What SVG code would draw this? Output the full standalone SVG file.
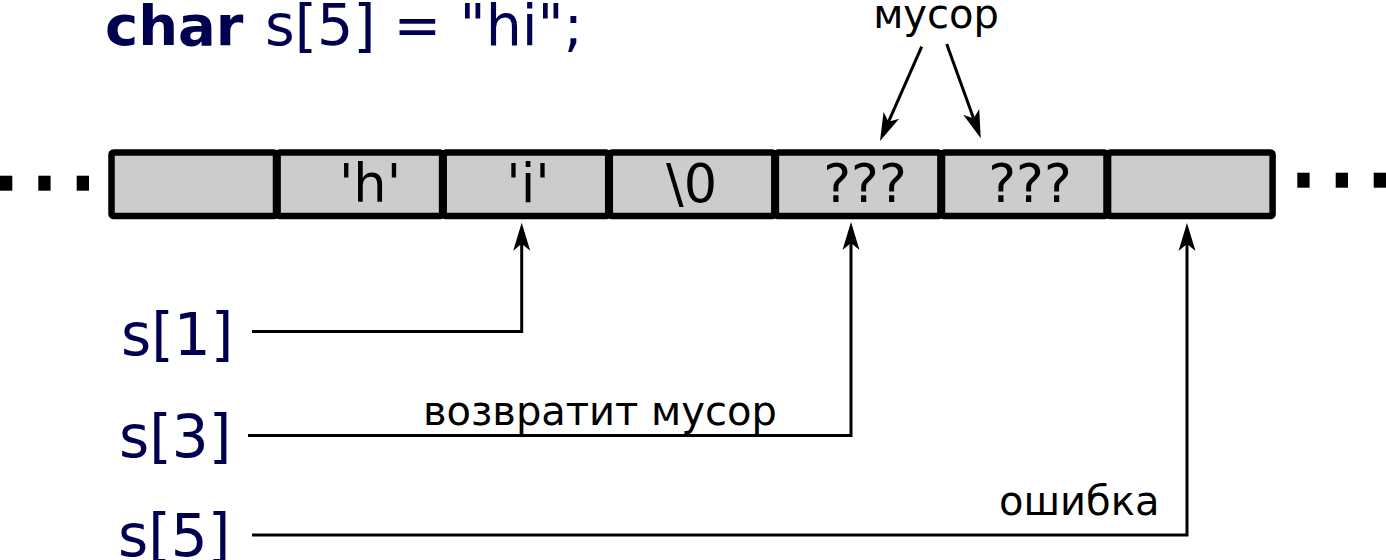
<svg xmlns="http://www.w3.org/2000/svg" width="1386" height="560" viewBox="0 0 1386 560">
<style>
text{font-family:"DejaVu Sans","Liberation Sans",sans-serif}
.navy{fill:#000050}
.cell rect{fill:#cccccc;stroke:#000;stroke-width:6.5;stroke-linejoin:round}
.ct{font-size:52.5px;fill:#000;text-anchor:middle}
.lbl{font-size:58px}
.ann{font-size:40px;fill:#000}
.con{fill:none;stroke:#000;stroke-width:3}
.dot{fill:#000}
</style>
<defs>
<marker id="ah" markerUnits="userSpaceOnUse" markerWidth="40" markerHeight="30" viewBox="-10 -15 40 30" refX="0" refY="0" orient="auto">
<path d="M21,0 L-7,-8.5 L0,0 L-7,8.5 Z" fill="#000"/>
</marker>
</defs>
<rect width="1386" height="560" fill="#fff"/>
<g id="title">
<text x="105" y="45" class="navy" style="font-size:56px"><tspan font-weight="bold">char</tspan><tspan x="265" style="font-size:57px">s[5] = "hi";</tspan></text>
</g>
<g id="dots-left">
<rect class="dot" x="0" y="175.7" width="12.3" height="15"/>
<rect class="dot" x="38.3" y="175.7" width="12.3" height="15"/>
<rect class="dot" x="76.7" y="175.7" width="12.3" height="15"/>
</g>
<g id="dots-right">
<rect class="dot" x="1297.3" y="172.7" width="12.3" height="15"/>
<rect class="dot" x="1335.7" y="172.7" width="12.3" height="15"/>
<rect class="dot" x="1373.7" y="172.7" width="12.3" height="15"/>
</g>
<g id="cell0" class="cell"><rect x="111.5" y="152.5" width="164.5" height="63.5" rx="2"/></g>
<g id="cell1" class="cell"><rect x="277.6" y="152.5" width="164.5" height="63.5" rx="2"/><text class="ct" x="370" y="201.5">'h'</text></g>
<g id="cell2" class="cell"><rect x="443.7" y="152.5" width="164.5" height="63.5" rx="2"/><text class="ct" x="528" y="201.5">'i'</text></g>
<g id="cell3" class="cell"><rect x="609.8" y="152.5" width="164.5" height="63.5" rx="2"/><text class="ct" x="691.5" y="201.5">\0</text></g>
<g id="cell4" class="cell"><rect x="775.9" y="152.5" width="164.5" height="63.5" rx="2"/><text class="ct" x="865" y="201.5">???</text></g>
<g id="cell5" class="cell"><rect x="942" y="152.5" width="164.5" height="63.5" rx="2"/><text class="ct" x="1030" y="201.5">???</text></g>
<g id="cell6" class="cell"><rect x="1108.1" y="152.5" width="164.5" height="63.5" rx="2"/></g>
<g id="label-s1"><text class="navy lbl" x="121" y="355">s[1]</text></g>
<g id="label-s3"><text class="navy lbl" x="119" y="456.5">s[3]</text></g>
<g id="label-s5"><text class="navy lbl" x="118" y="556">s[5]</text></g>
<g id="label-garbage"><text class="ann" x="936" y="27.5" text-anchor="middle">мусор</text></g>
<g id="label-returns"><text class="ann" x="423" y="425">возвратит мусор</text></g>
<g id="label-error"><text class="ann" x="999" y="515">ошибка</text></g>
<g id="connectors">
<path class="con" d="M252,331.5 H521.7 V243.7" marker-end="url(#ah)"/>
<path class="con" d="M248,435.5 H851 V243" marker-end="url(#ah)"/>
<path class="con" d="M252,535 H1187 V244" marker-end="url(#ah)"/>
<path class="con" d="M921.7,46.7 L888.5,121.8" marker-end="url(#ah)"/>
<path class="con" d="M946.7,44 L973.6,118.5" marker-end="url(#ah)"/>
</g>
</svg>
